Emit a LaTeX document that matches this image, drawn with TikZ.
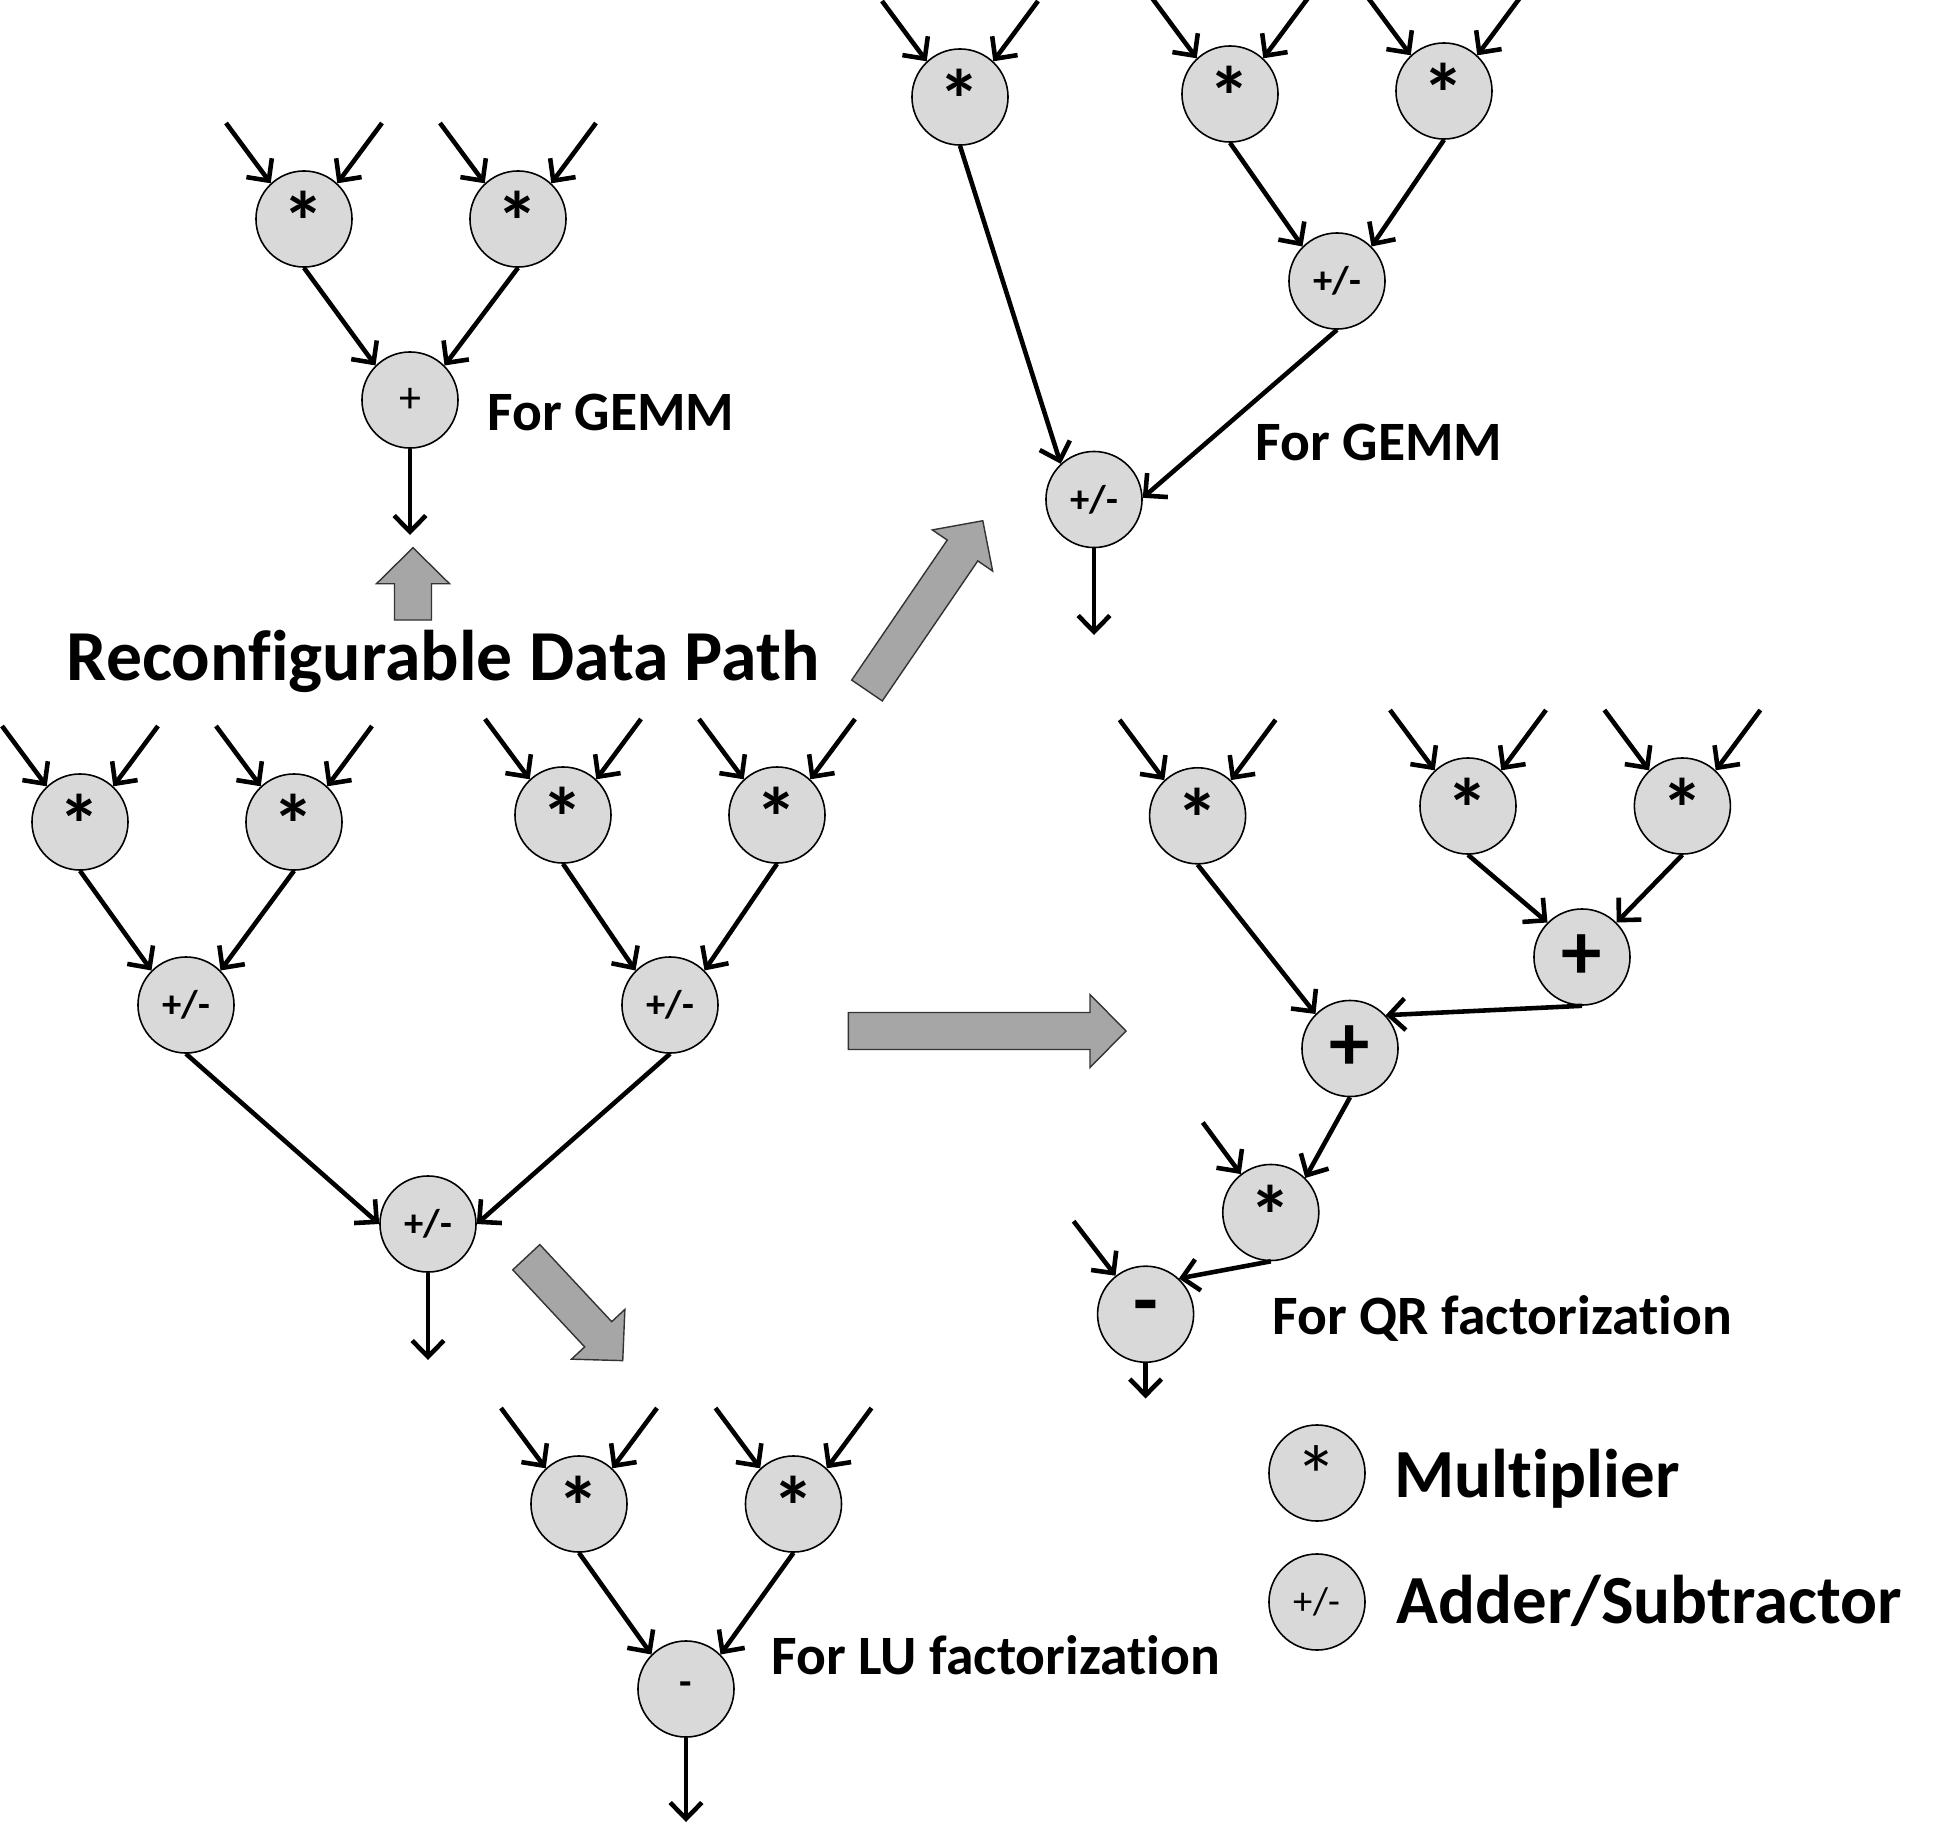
\documentclass[tikz,border=0pt]{standalone}
\usepackage{fontspec}
\setmainfont{Carlito}[Ligatures={NoCommon}]
\usetikzlibrary{arrows.meta,calc}
\definecolor{nodegray}{HTML}{D9D9D9}
\definecolor{arrowgray}{HTML}{A6A6A6}
\begin{document}
\begin{tikzpicture}[x=0.01cm,y=-0.01cm,
  opnode/.style={circle,draw=black,line width=0.45pt,fill=nodegray,minimum size=0.96cm,inner sep=0pt},
  mult/.style={opnode,font=\fontsize{24pt}{28pt}\selectfont\bfseries,text height=18.6pt,text depth=0pt},
  legmult/.style={opnode,font=\fontsize{24pt}{28pt}\selectfont,text height=18.6pt,text depth=0pt},
  addsub/.style={opnode,font=\fontsize{11pt}{13pt}\selectfont\bfseries},
  legadd/.style={opnode,font=\fontsize{11pt}{13pt}\selectfont},
  smallop/.style={opnode,font=\fontsize{12.5pt}{14pt}\selectfont,text height=7pt,text depth=0pt},
  bigop/.style={opnode,font=\fontsize{23pt}{27pt}\selectfont\bfseries},
  conn/.style={line width=1.3pt,-{Straight Barb[length=4.6pt,width=9pt]}},
  fat/.style={draw=black!80,line width=0.4pt,fill=arrowgray},
  lbl/.style={font=\fontsize{15.8pt}{18pt}\selectfont\bfseries,anchor=base west,inner sep=0pt},
  biglbl/.style={font=\fontsize{19.6pt}{23pt}\selectfont\bfseries,anchor=base west,inner sep=0pt},
  pics/fatarrow/.style={code={\path[fat] (0,18.5) -- (#1-36,18.5) -- (#1-36,36.5) -- (#1,0) -- (#1-36,-36.5) -- (#1-36,-18.5) -- (0,-18.5) -- cycle;}}
]
\useasboundingbox (0,0) rectangle (1944,1842);

% ---------- top-left GEMM ----------
\node[mult] (A1) at (304,219) {*};
\node[mult] (A2) at (518,219) {*};
\node[smallop] (A3) at (410,400) {+};
\coordinate (A3o) at (410,535);
\draw[conn] (A1.south) -- (A3.135);
\draw[conn] (A2.south) -- (A3.45);
\draw[conn] (A3.south) -- (A3o);
\node[lbl] (t1) at (487,430.5) {For GEMM};

% ---------- top-right GEMM ----------
\node[mult] (B1) at (960,97) {*};
\node[mult] (B2) at (1230,94) {*};
\node[mult] (B3) at (1444,91) {*};
\node[addsub] (B4) at (1337,281) {+/-};
\node[addsub] (B5) at (1094,499.5) {+/-};
\coordinate (B5o) at (1094,635);
\draw[conn] (B1.south) -- (B5.133);
\draw[conn] (B2.south) -- (B4.135);
\draw[conn] (B3.south) -- (B4.45);
\draw[conn] (B4.south) -- (B5.2);
\draw[conn] (B5.south) -- (B5o);
\node[lbl] (t2) at (1255,460) {For GEMM};

% ---------- main reconfigurable data path ----------
\node[font=\fontsize{20.4pt}{24pt}\selectfont\bfseries,anchor=base west,inner sep=0pt] (title) at (66,680) {Reconfigurable Data Path};
\node[mult] (C1) at (80,822) {*};
\node[mult] (C2) at (294,822) {*};
\node[mult] (C3) at (563,815) {*};
\node[mult] (C4) at (777,815) {*};
\node[addsub] (C5) at (186,1005) {+/-};
\node[addsub] (C6) at (670,1005) {+/-};
\node[addsub] (C7) at (428,1224) {+/-};
\coordinate (C7o) at (428,1360);
\draw[conn] (C1.south) -- (C5.135);
\draw[conn] (C2.south) -- (C5.45);
\draw[conn] (C3.south) -- (C6.135);
\draw[conn] (C4.south) -- (C6.45);
\draw[conn] (C5.south) -- (C7.west);
\draw[conn] (C6.south) -- (C7.east);
\draw[conn] (C7.south) -- (C7o);

% ---------- LU ----------
\node[mult] (D1) at (579,1504) {*};
\node[mult] (D2) at (793.5,1504) {*};
\node[opnode,font=\fontsize{11.5pt}{13pt}\selectfont\bfseries] (D3) at (686,1689) {-};
\coordinate (D3o) at (686,1822);
\draw[conn] (D1.south) -- (D3.135);
\draw[conn] (D2.south) -- (D3.45);
\draw[conn] (D3.south) -- (D3o);
\node[lbl] (t4) at (771,1674) {For LU factorization};

% ---------- QR ----------
\node[mult] (E1) at (1197.6,815.8) {*};
\node[mult] (E2) at (1468,806) {*};
\node[mult] (E3) at (1682.4,806) {*};
\node[bigop] (E4) at (1582,957) {+};
\node[bigop] (E5) at (1350,1048.5) {+};
\node[mult] (E6) at (1270.8,1212.5) {*};
\node[bigop] (E7) at (1145.6,1314.2) {-};
\coordinate (E6i) at ($(E6)+(-68,-90)$);
\coordinate (E7i) at ($(E7)+(-72,-93)$);
\coordinate (E7o) at (1145.6,1398.5);
\draw[conn] (E2.south) -- (E4.135);
\draw[conn] (E3.south) -- (E4.45);
\draw[conn] (E1.south) -- (E5.135);
\draw[conn] (E4.south) -- (E5.43);
\draw[conn] (E5.south) -- (E6.45);
\draw[conn] (E6i) -- (E6.128);
\draw[conn] (E6.south) -- (E7.47);
\draw[conn] (E7i) -- (E7.128);
\draw[conn] (E7.south) -- (E7o);
\node[lbl] (t3) at (1272,1334) {For QR factorization};

% ---------- inputs of multipliers ----------
\foreach \n in {A1,A2,B1,B2,B3,C1,C2,C3,C4,D1,D2,E1,E2,E3}{
  \coordinate (\n-l) at ($(\n)+(-78,-96)$);
  \coordinate (\n-r) at ($(\n)+(78,-96)$);
  \draw[conn] (\n-l) -- (\n.133);
  \draw[conn] (\n-r) -- (\n.47);
}

% ---------- big gray arrows ----------
\pic[rotate=90] at (413,620) {fatarrow=72.3};
\pic[rotate=55.7] at (867,690.5) {fatarrow=205.5};
\pic at (848.3,1031) {fatarrow=277.7};
\pic[rotate=-47] at (526.3,1257.2) {fatarrow=141.4};

% ---------- legend ----------
\node[legmult] (L1) at (1317,1473) {*};
\node[legadd] (L2) at (1317,1602) {+/-};
\node[biglbl] (t5) at (1394,1497) {Multiplier};
\node[biglbl] (t6) at (1396,1623) {Adder/Subtractor};
\end{tikzpicture}
\end{document}
